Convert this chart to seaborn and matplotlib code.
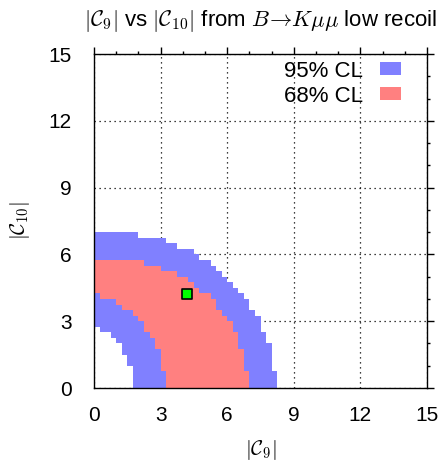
import numpy as np
import matplotlib
matplotlib.use("Agg")
import matplotlib.pyplot as plt
import seaborn as sns
import pandas as pd
from matplotlib.patches import Patch

# ---- data: allowed regions, one row per |C10| band (bottom edge), 0.25 high ----
row_bottom = [0.0, 0.25, 0.5, 0.75, 1.0, 1.25, 1.5, 1.75, 2.0, 2.25, 2.5, 2.75, 3.0, 3.25,
              3.5, 3.75, 4.0, 4.25, 4.5, 4.75, 5.0, 5.25, 5.5, 5.75, 6.0, 6.25, 6.5, 6.75]
cl95_left = [1.75, 1.75, 1.75, 1.75, 1.5, 1.5, 1.25, 1.25, 1.0, 0.75, 0.25, 0.0, 0.0, 0.0,
             0.0, 0.0, 0.0, 0.0, 0.0, 0.0, 0.0, 0.0, 0.0, 0.0, 0.0, 0.0, 0.0, 0.0]
cl95_right = [8.25, 8.25, 8.25, 8.0, 8.0, 8.0, 8.0, 8.0, 7.75, 7.75, 7.5, 7.5, 7.5, 7.25,
              7.0, 7.0, 6.75, 6.5, 6.25, 6.0, 5.75, 5.5, 5.25, 4.75, 4.5, 3.75, 3.25, 2.0]
cl68_left = [3.25, 3.25, 3.25, 3.0, 3.0, 3.0, 3.0, 2.75, 2.75, 2.5, 2.25, 2.25, 2.0, 1.75,
             1.25, 1.0, 0.25, 0.0, 0.0, 0.0, 0.0, 0.0, 0.0, None, None, None, None, None]
cl68_right = [7.0, 7.0, 7.0, 6.75, 6.75, 6.75, 6.75, 6.5, 6.5, 6.5, 6.25, 6.25, 6.0, 5.75,
              5.5, 5.5, 5.25, 4.75, 4.5, 4.25, 3.75, 3.0, 2.25, None, None, None, None, None]
best_c9 = [4.2]
best_c10 = [4.2]
labels = ["95% CL", "68% CL"]
ticks = [0, 3, 6, 9, 12, 15]

BLUE = "#8080ff"
RED = "#ff8080"

sns.set_theme(style="white")
plt.rcParams["font.family"] = ["Liberation Sans", "DejaVu Sans"]
plt.rcParams["mathtext.fontset"] = "cm"
plt.rcParams["text.color"] = "black"
plt.rcParams["axes.labelcolor"] = "black"
plt.rcParams["xtick.color"] = "black"
plt.rcParams["ytick.color"] = "black"

fig = plt.figure(figsize=(4.44, 4.63), dpi=100)
ax = fig.add_axes([94 / 444, 1 - 388 / 463, 333 / 444, 334 / 463])

df95 = pd.DataFrame({"y": row_bottom, "l": cl95_left, "r": cl95_right})
df68 = pd.DataFrame({"y": row_bottom, "l": cl68_left, "r": cl68_right}).dropna()

ax.barh(df95["y"], df95["r"] - df95["l"], left=df95["l"], height=0.25, align="edge",
        color=BLUE, linewidth=0, antialiased=False, zorder=2)
ax.barh(df68["y"], df68["r"] - df68["l"], left=df68["l"], height=0.25, align="edge",
        color=RED, linewidth=0, antialiased=False, zorder=3)

sns.scatterplot(x=best_c9, y=best_c10, marker="s", s=60, color="#00ff00",
                edgecolor="black", linewidth=1.2, ax=ax, zorder=5, legend=False)

ax.set_xlim(0, 15)
ax.set_ylim(0, 15)
ax.set_xticks(ticks)
ax.set_yticks(ticks)
ax.set_xticks(range(0, 16), minor=True)
ax.set_yticks(range(0, 16), minor=True)
ax.tick_params(which="major", direction="out", length=5, width=1, color="black",
               labelsize=15, labelcolor="black", top=True, right=True,
               labeltop=False, labelright=False)
ax.tick_params(axis="x", which="major", pad=8)
ax.tick_params(axis="y", which="major", pad=11)
ax.tick_params(which="minor", direction="out", length=2.5, width=1, color="black",
               top=True, right=True)
ax.set_axisbelow(True)
ax.grid(True, which="major", color="black", linestyle=(0, (1, 3)), linewidth=0.9)
for s in ax.spines.values():
    s.set_visible(True)
    s.set_color("black")
    s.set_linewidth(1.0)
    s.set_zorder(6)

ax.set_xlabel(r"$|\mathcal{C}_9|$", fontsize=15, labelpad=9, color="black")
ax.set_ylabel(r"$|\mathcal{C}_{10}|$", fontsize=15, labelpad=12, color="black")
ax.set_title(r"$|\mathcal{C}_9|$ vs $|\mathcal{C}_{10}|$ from $B\!\to\!K\mu\mu$ low recoil",
             fontsize=16, pad=20, color="black")

handles = [Patch(facecolor=BLUE, edgecolor="none"), Patch(facecolor=RED, edgecolor="none")]
leg = ax.legend(handles, labels, loc="upper right", frameon=False, markerfirst=False,
                fontsize=16, handlelength=0.95, handleheight=0.5, handletextpad=0.75,
                labelspacing=0.18, borderaxespad=0.0, borderpad=0.0,
                bbox_to_anchor=((401 - 94) / 333, 0.98))
for t in leg.get_texts():
    t.set_color("black")

fig.savefig("out.png", dpi=100)
